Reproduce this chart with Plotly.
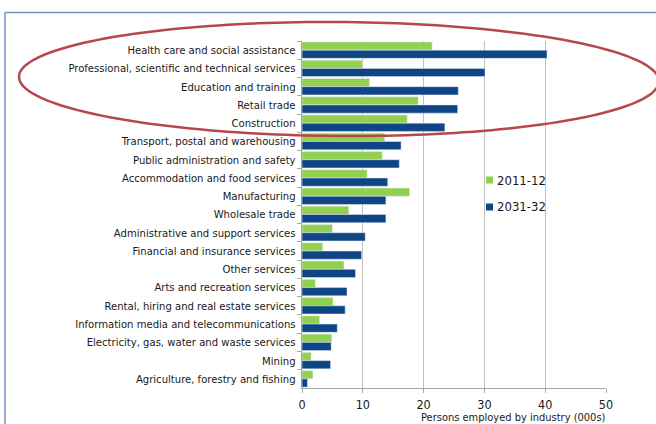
import numpy as np
import plotly.graph_objects as go

# Industries, top to bottom
industries = [
    "Health care and social assistance",
    "Professional, scientific and technical services",
    "Education and training",
    "Retail trade",
    "Construction",
    "Transport, postal and warehousing",
    "Public administration and safety",
    "Accommodation and food services",
    "Manufacturing",
    "Wholesale trade",
    "Administrative and support services",
    "Financial and insurance services",
    "Other services",
    "Arts and recreation services",
    "Rental, hiring and real estate services",
    "Information media and telecommunications",
    "Electricity, gas, water and waste services",
    "Mining",
    "Agriculture, forestry and fishing",
]

# Persons employed by industry (000s)
employed_2011_12 = [21.4, 9.9, 11.1, 19.1, 17.3, 13.6, 13.2, 10.7, 17.7, 7.7,
                    5.0, 3.4, 6.9, 2.2, 5.1, 2.9, 4.9, 1.5, 1.8]
employed_2031_32 = [40.3, 30.1, 25.7, 25.6, 23.5, 16.3, 16.0, 14.1, 13.8, 13.8,
                    10.4, 9.8, 8.8, 7.4, 7.1, 5.8, 4.8, 4.7, 0.9]

x_ticks = [0, 10, 20, 30, 40, 50]
series_names = ["2011-12", "2031-32"]

GREEN = "#92d050"
BLUE = "#0f4585"
FONT = "DejaVu Sans Condensed, sans-serif"

W, H = 656, 424
L, R, T, B = 302, 50, 41, 36
PW, PH = W - L - R, H - T - B


def px(x):
    return (x - L) / PW


def py(y):
    return (H - B - y) / PH


fig = go.Figure()
fig.add_trace(go.Bar(y=industries, x=employed_2011_12, orientation="h",
                     name=series_names[0], marker_color=GREEN))
fig.add_trace(go.Bar(y=industries, x=employed_2031_32, orientation="h",
                     name=series_names[1], marker_color=BLUE))

# Highlight ellipse around the five largest growth industries
t = np.linspace(0, 2 * np.pi, 200)
cx, cy, a, b, ang = 339, 79, 320, 57, np.deg2rad(0.4)
ex = cx + a * np.cos(t) * np.cos(ang) - b * np.sin(t) * np.sin(ang)
ey = cy + a * np.cos(t) * np.sin(ang) + b * np.sin(t) * np.cos(ang)
path = "M " + " L ".join(f"{px(u):.4f},{py(v):.4f}" for u, v in zip(ex, ey)) + " Z"

shapes = [
    # outer frame (top and left edges)
    dict(type="line", xref="paper", yref="paper", x0=px(5), x1=px(660),
         y0=py(12.5), y1=py(12.5), line=dict(color="#7b8fc4", width=1.5)),
    dict(type="line", xref="paper", yref="paper", x0=px(5), x1=px(5),
         y0=py(12.5), y1=py(430), line=dict(color="#7b8fc4", width=1.5)),
    dict(type="path", xref="paper", yref="paper", path=path,
         line=dict(color="#b8474a", width=2.5)),
]

annotations = [dict(text="Persons employed by industry (000s)", xref="paper",
                    yref="paper", x=px(513), y=py(417.5), xanchor="center",
                    yanchor="middle", showarrow=False,
                    font=dict(size=11, color="#1a1a1a"))]

# Legend: small coloured squares with labels to the right
for name, colour, ly in zip(series_names, [GREEN, BLUE], [180, 207]):
    shapes.append(dict(type="rect", xref="paper", yref="paper",
                       x0=px(486), x1=px(493), y0=py(ly + 3.5), y1=py(ly - 3.5),
                       fillcolor=colour, line=dict(width=0)))
    annotations.append(dict(text=name, xref="paper", yref="paper",
                            x=px(495), y=py(ly), xanchor="left",
                            yanchor="middle", showarrow=False,
                            font=dict(size=13, color="#1a1a1a")))

fig.update_layout(
    width=W, height=H,
    margin=dict(l=L, r=R, t=T, b=B),
    paper_bgcolor="white", plot_bgcolor="white",
    barmode="group", bargap=0.1, bargroupgap=0,
    font=dict(family=FONT, size=11.2, color="#1a1a1a"),
    showlegend=False,
    shapes=shapes,
    annotations=annotations,
)
fig.update_xaxes(range=[0, 50], tickvals=x_ticks, showgrid=True,
                 gridcolor="#c0c0c0", gridwidth=1, zeroline=False,
                 showline=True, linecolor="#a6a6a6", ticks="outside",
                 ticklen=4, tickcolor="#a6a6a6", tickfont=dict(size=12.5),
                 ticklabelstandoff=1, fixedrange=True)
fig.update_yaxes(categoryorder="array", categoryarray=industries,
                 autorange="reversed", showline=True, linecolor="#a6a6a6",
                 ticks="outside", tickson="boundaries", ticklen=4,
                 tickcolor="#a6a6a6", showgrid=False, ticksuffix=" ",
                 tickfont=dict(size=11.2))

fig.write_html("out.html")
